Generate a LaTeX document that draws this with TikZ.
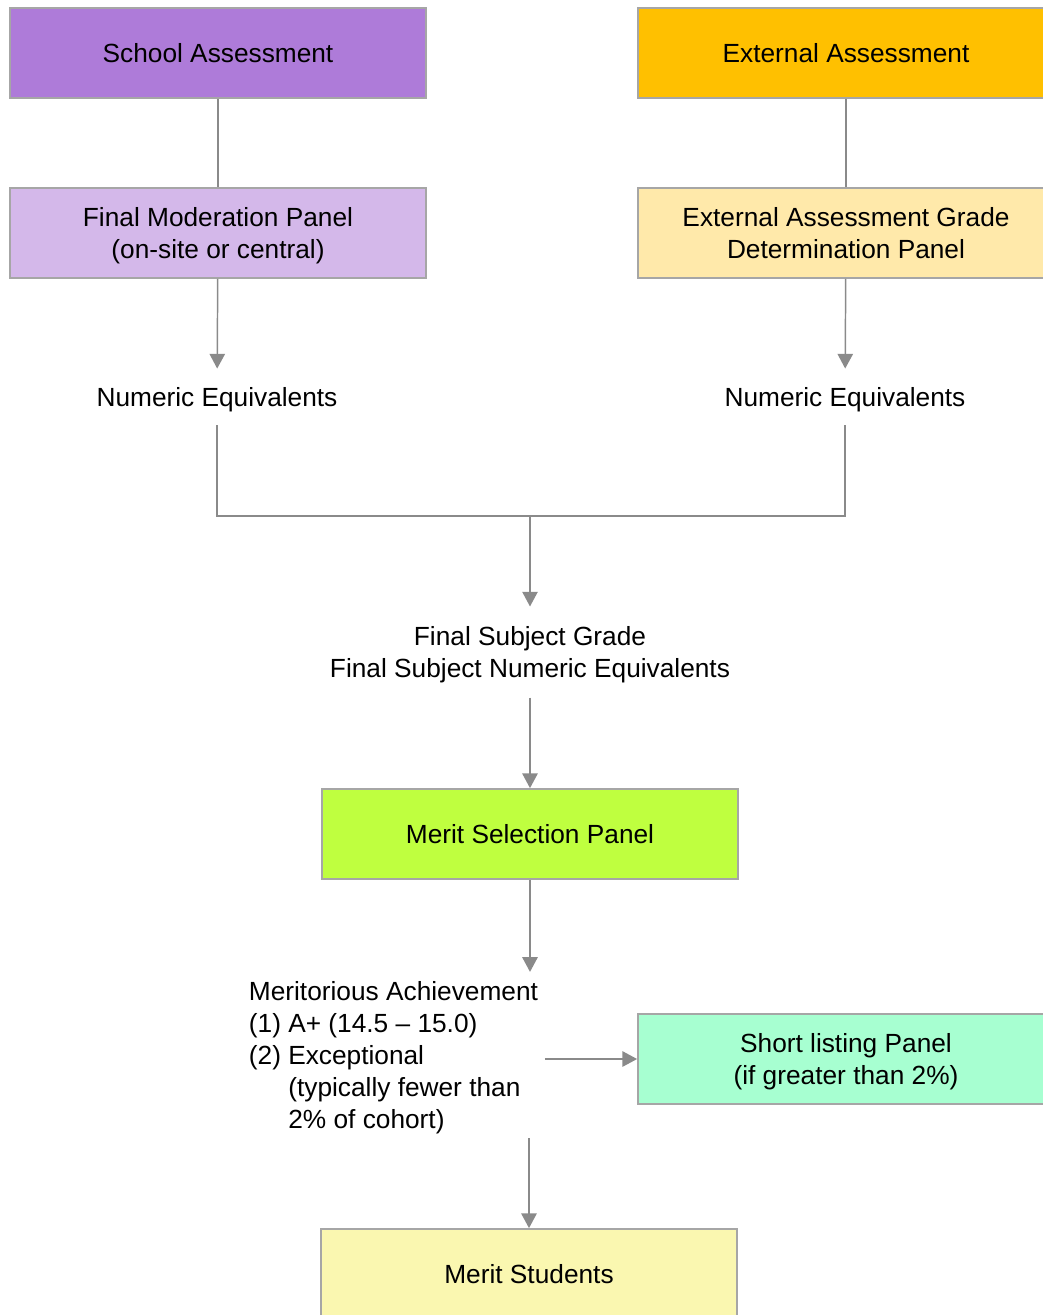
\documentclass[tikz,border=0pt]{standalone}
\usepackage{fontspec}
\setmainfont{Liberation Sans}
\definecolor{schoolfill}{HTML}{AE7BD9}
\definecolor{externalfill}{HTML}{FFC000}
\definecolor{moderationfill}{HTML}{D4B8EA}
\definecolor{gradefill}{HTML}{FFE9AA}
\definecolor{meritfill}{HTML}{BFFF3F}
\definecolor{shortfill}{HTML}{A7FFD1}
\definecolor{studentfill}{HTML}{FAF7B0}
\definecolor{boxline}{HTML}{A6A6A6}
\definecolor{linkline}{HTML}{8A8A8A}
\usetikzlibrary{arrows.meta}
\usetikzlibrary{positioning}
\tikzstyle{base}=[x=0.75pt, y=-0.75pt, font=\fontsize{19.7}{24}\selectfont, text depth=0pt]
\tikzstyle{panel}=[draw=boxline, line width=1.3pt, minimum width=312pt, minimum height=67.5pt, inner sep=0pt, align=center]
\tikzstyle{caption}=[inner xsep=5pt, align=center]
\tikzstyle{link}=[draw=linkline, line width=1.1pt]
\tikzstyle{flow}=[link, -{Triangle[width=11.5pt,length=11pt]}, linkline]

\begin{document}
\begin{tikzpicture}[base]
    \useasboundingbox (0,0) rectangle (1043,1315);
    % top boxes
    \node [panel, fill=schoolfill] (school) at (218,53) {School Assessment};
    \node [panel, fill=externalfill] (external) at (846,53) {External Assessment};
    \node [panel, fill=moderationfill] (moderation) at (218,233) {Final Moderation Panel\\(on-site or central)};
    \node [panel, fill=gradefill] (grade) at (846,233) {External Assessment Grade\\Determination Panel};
    % numeric equivalents
    \node [caption, inner ysep=14pt] (schoolnum) at (217,397) {Numeric Equivalents};
    \node [caption, inner ysep=14pt] (externalnum) at (845,397) {Numeric Equivalents};
    \node [caption, inner ysep=14.8pt] (subject) at (530,652) {Final Subject Grade\\Final Subject Numeric Equivalents};
    \node [panel, fill=meritfill] (merit) at (530,834) {Merit Selection Panel};
    \node [caption, align=left, inner ysep=7pt, anchor=west] (achievement) at (242,1055)
        {Meritorious Achievement\\(1) A+ (14.5 -- 15.0)\\(2) Exceptional\\\hphantom{(2) }(typically fewer than\\\hphantom{(2) }2\% of cohort)};
    \node [panel, fill=shortfill] (shortlist) at (846,1059) {Short listing Panel\\(if greater than 2\%)};
    \node [panel, fill=studentfill] (students) at (529,1274) {Merit Students};
    \coordinate (join) at (530,516);
    % connectors
    \draw [link] (school) -- (moderation);
    \draw [link] (external) -- (grade);
    \draw [flow] (moderation) -- (schoolnum);
    \draw [flow] (grade) -- (externalnum);
    \draw [link] (schoolnum.south) |- (join) -| (externalnum.south);
    \draw [flow] (join) -- (subject);
    \draw [flow] (subject) -- (merit);
    \draw [flow] (merit.south) -- (merit.south |- achievement.north);
    \draw [flow] (achievement.east |- shortlist.west) -- (shortlist.west);
    \draw [flow] (students.north |- achievement.south) -- (students.north);
\end{tikzpicture}
\end{document}
